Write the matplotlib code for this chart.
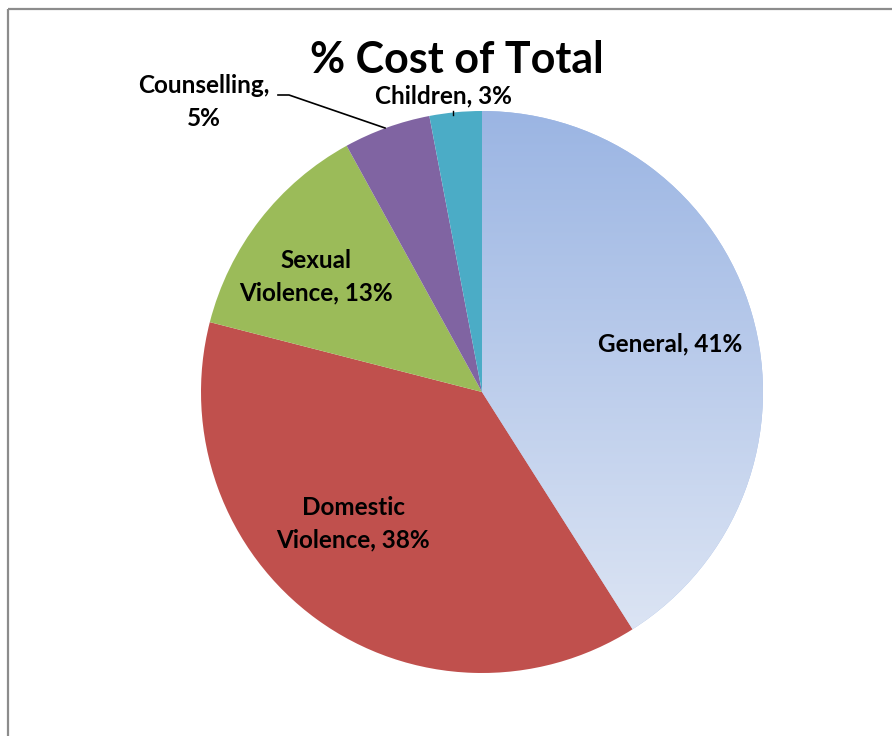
import matplotlib
matplotlib.use("Agg")
import matplotlib.pyplot as plt
import numpy as np
from matplotlib.colors import LinearSegmentedColormap

categories = ["General", "Domestic Violence", "Sexual Violence", "Counselling", "Children"]
values = [41, 38, 13, 5, 3]
label_texts = ["General, 41%", "Domestic\nViolence, 38%", "Sexual\nViolence, 13%",
               "Counselling,\n5%", "Children, 3%"]
colors = ["#A6BDE6", "#C0504D", "#9BBB59", "#8064A2", "#4BACC6"]

W, H = 892, 736
fig = plt.figure(figsize=(W / 100, H / 100), dpi=100)
ax = fig.add_axes([0, 0, 1, 1])

cx, cy, r = 482, H - 392, 281
wedges, _ = ax.pie(values, startangle=90, counterclock=False, colors=colors,
                   center=(cx, cy), radius=r, frame=True,
                   wedgeprops=dict(linewidth=0))

# gradient fill for General slice
cmap = LinearSegmentedColormap.from_list("g", ["#E1E8F5", "#9BB5E3"])
grad = np.linspace(0, 1, 256).reshape(-1, 1)
im = ax.imshow(grad, cmap=cmap, extent=[cx - r, cx + r, cy - r, cy + r],
               origin="lower", aspect="auto", zorder=wedges[0].get_zorder() + 0.1)
im.set_clip_path(wedges[0])
ax.set_xlim(0, W)
ax.set_ylim(0, H)
ax.set_aspect("equal")
ax.axis("off")

font = "Lato"
fs = 17.5
ls = 1.5
ax.text(670, H - 344, label_texts[0], ha="center", va="center", fontsize=fs,
        fontweight="bold", family=font)
ax.text(353, H - 524, label_texts[1], ha="center", va="center", fontsize=fs,
        fontweight="bold", family=font, linespacing=ls)
ax.text(316, H - 277, label_texts[2], ha="center", va="center", fontsize=fs,
        fontweight="bold", family=font, linespacing=ls)
ax.text(204, H - 102, label_texts[3], ha="center", va="center", fontsize=fs,
        fontweight="bold", family=font, linespacing=ls)
ax.text(443, H - 96, label_texts[4], ha="center", va="center", fontsize=fs,
        fontweight="bold", family=font)

# leader lines
ax.plot([278, 289, 385], [H - 95, H - 95, H - 128], color="black", lw=1.2)
ax.plot([453, 453], [H - 111, H - 115], color="black", lw=1)

# title
ax.text(457, H - 60, "% Cost of Total", ha="center", va="center", fontsize=31,
        fontweight="bold", family=font)

# frame
ax.plot([8, 8], [0, H - 9], color="#8C8C8C", lw=1.6, solid_capstyle="butt")
ax.plot([8, W], [H - 9, H - 9], color="#8C8C8C", lw=1.6, solid_capstyle="butt")

fig.savefig("out.png", dpi=100)
